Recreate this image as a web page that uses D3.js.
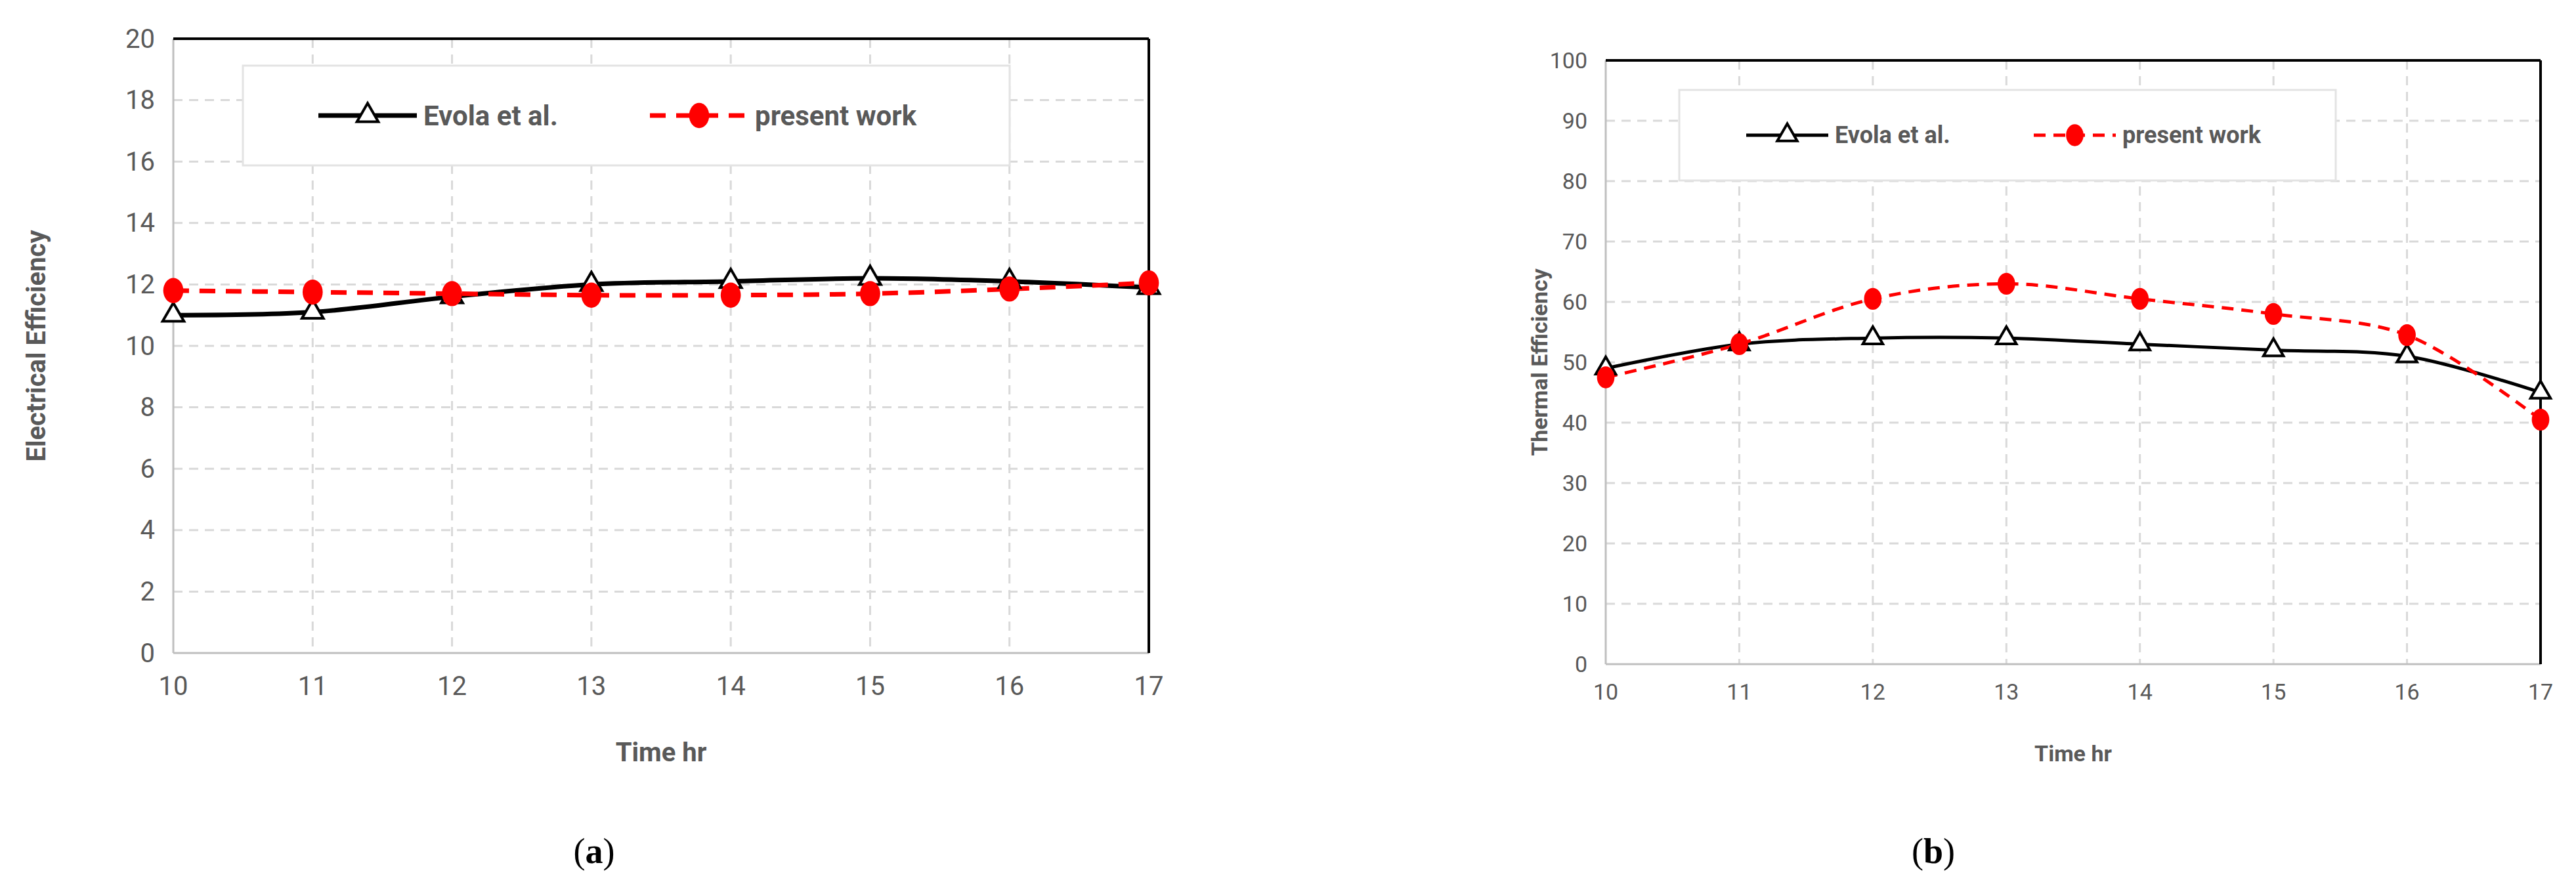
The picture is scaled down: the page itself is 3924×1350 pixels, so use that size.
<!DOCTYPE html>
<html><head><meta charset="utf-8">
<script src="https://cdn.jsdelivr.net/npm/d3@7"></script>
<style>body{margin:0;background:#fff}</style></head>
<body><svg id="c" width="3924" height="1350"></svg>
<script>
const hours = [10,11,12,13,14,15,16,17];
const elecEvola = [11,11.1,11.6,12,12.1,12.2,12.1,11.9];
const elecPresent = [11.8,11.75,11.7,11.65,11.65,11.7,11.85,12.05];
const thermEvola = [49,53,54,54,53,52,51,45];
const thermPresent = [47.5,53,60.5,63,60.5,58,54.5,40.5];
const elecTicks = [0,2,4,6,8,10,12,14,16,18,20];
const thermTicks = [0,10,20,30,40,50,60,70,80,90,100];
const seriesNames = ["Evola et al.","present work"];

const svg = d3.select("#c");
const F = "Roboto, 'Open Sans', sans-serif";

function panel(o){
  const g = svg.append("g");
  const x = d3.scaleLinear().domain([10,17]).range([o.x0,o.x1]);
  const y = d3.scaleLinear().domain([0,o.ymax]).range([o.y1,o.y0]);
  g.selectAll(".hg").data(o.ticks.slice(1)).join("line")
    .attr("x1",o.x0).attr("x2",o.x1).attr("y1",d=>y(d)).attr("y2",d=>y(d))
    .attr("stroke","#d9d9d9").attr("stroke-width",3).attr("stroke-dasharray","14,10");
  g.selectAll(".vg").data(hours.slice(1)).join("line")
    .attr("x1",d=>x(d)).attr("x2",d=>x(d)).attr("y1",o.y0).attr("y2",o.y1)
    .attr("stroke","#d9d9d9").attr("stroke-width",3).attr("stroke-dasharray","14,10");
  g.append("line").attr("x1",o.x0).attr("x2",o.x0).attr("y1",o.y0).attr("y2",o.y1).attr("stroke","#bfbfbf").attr("stroke-width",3);
  g.append("line").attr("x1",o.x0).attr("x2",o.x1).attr("y1",o.y1).attr("y2",o.y1).attr("stroke","#bfbfbf").attr("stroke-width",3);
  g.append("line").attr("x1",o.x0).attr("x2",o.x1).attr("y1",o.y0).attr("y2",o.y0).attr("stroke","#000").attr("stroke-width",4);
  g.append("line").attr("x1",o.x1).attr("x2",o.x1).attr("y1",o.y0).attr("y2",o.y1).attr("stroke","#000").attr("stroke-width",4);
  g.append("rect").attr("x",o.lx).attr("y",o.ly).attr("width",o.lw).attr("height",o.lh)
    .attr("fill","#fff").attr("stroke","#e3e3e3").attr("stroke-width",3);
  g.selectAll(".yt").data(o.ticks).join("text").attr("x",o.x0-28).attr("y",d=>y(d))
    .attr("text-anchor","end").attr("dominant-baseline","central")
    .attr("font-family",F).attr("font-size",o.fs).attr("fill","#595959").text(d=>d);
  g.selectAll(".xt").data(hours).join("text").attr("x",d=>x(d)).attr("y",o.y1+o.fs*1.6)
    .attr("text-anchor","middle").attr("font-family",F).attr("font-size",o.fs).attr("fill","#595959").text(d=>d);
  g.append("text").attr("x",(o.x0+o.x1)/2).attr("y",o.xty).attr("text-anchor","middle")
    .attr("font-family",F).attr("font-weight","bold").attr("font-size",o.fs).attr("fill","#595959").text("Time hr");
  g.append("text").attr("transform",`translate(${o.ylx},${(o.y0+o.y1)/2}) rotate(-90)`)
    .attr("text-anchor","middle").attr("dominant-baseline","central")
    .attr("font-family",F).attr("font-weight","bold").attr("font-size",o.fs).attr("fill","#595959").text(o.ylab);
  g.append("text").attr("x",o.capx).attr("y",1315).attr("text-anchor","middle")
    .attr("font-family","'Liberation Serif', serif").attr("font-size",54).attr("fill","#000")
    .html(`(<tspan font-weight="bold">${o.cap}</tspan>)`);
  const line = d3.line().x((d,i)=>x(hours[i])).y(d=>y(d)).curve(d3.curveCatmullRom.alpha(0.5));
  g.append("path").attr("d",line(o.ev)).attr("fill","none").attr("stroke","#000").attr("stroke-width",o.lwd);
  g.append("path").attr("d",line(o.pr)).attr("fill","none").attr("stroke","#ff0000").attr("stroke-width",o.lwd).attr("stroke-dasharray",o.dash);
  const tri = d3.symbol().type(d3.symbolTriangle).size(o.ms*2);
  g.selectAll(".tr").data(o.ev).join("path").attr("d",tri)
    .attr("transform",(d,i)=>`translate(${x(hours[i])},${y(d)})`)
    .attr("fill","#fff").attr("stroke","#000").attr("stroke-width",4);
  g.selectAll(".ci").data(o.pr).join("ellipse").attr("cx",(d,i)=>x(hours[i])).attr("cy",d=>y(d))
    .attr("rx",o.ms/15).attr("ry",o.ms/12).attr("fill","#ff0000");
  const cy = o.ly+o.lh/2;
  g.append("line").attr("x1",o.lx+o.l1).attr("x2",o.lx+o.l1+o.lsw).attr("y1",cy).attr("y2",cy).attr("stroke","#000").attr("stroke-width",o.lwd);
  g.append("path").attr("d",tri).attr("transform",`translate(${o.lx+o.l1+o.lsw/2},${cy})`).attr("fill","#fff").attr("stroke","#000").attr("stroke-width",4);
  g.append("text").attr("x",o.lx+o.l1+o.lsw+10).attr("y",cy).attr("dominant-baseline","central")
    .attr("font-family",F).attr("font-weight","bold").attr("font-size",o.lfs).attr("fill","#595959").text(seriesNames[0]);
  g.append("line").attr("x1",o.lx+o.l2).attr("x2",o.lx+o.l2+o.lsw).attr("y1",cy).attr("y2",cy).attr("stroke","#ff0000").attr("stroke-width",o.lwd).attr("stroke-dasharray",o.dash);
  g.append("ellipse").attr("cx",o.lx+o.l2+o.lsw/2).attr("cy",cy).attr("rx",o.ms/15).attr("ry",o.ms/12).attr("fill","#ff0000");
  g.append("text").attr("x",o.lx+o.l2+o.lsw+10).attr("y",cy).attr("dominant-baseline","central")
    .attr("font-family",F).attr("font-weight","bold").attr("font-size",o.lfs).attr("fill","#595959").text(seriesNames[1]);
}

panel({x0:264,x1:1750,y0:59,y1:995,ymax:20,ticks:elecTicks,ev:elecEvola,pr:elecPresent,
  lx:370,ly:100,lw:1168,lh:152,l1:115,l2:620,lsw:150,fs:40,lfs:42,ylx:55,xty:1160,
  ylab:"Electrical Efficiency",cap:"a",capx:905,lwd:7,dash:"24,16",ms:230});
panel({x0:2446,x1:3870,y0:92,y1:1012,ymax:100,ticks:thermTicks,ev:thermEvola,pr:thermPresent,
  lx:2558,ly:137,lw:1000,lh:138,l1:102,l2:540,lsw:125,fs:34,lfs:36,ylx:2345,xty:1160,
  ylab:"Thermal Efficiency",cap:"b",capx:2945,lwd:5,dash:"18,12",ms:200});
</script></body></html>
